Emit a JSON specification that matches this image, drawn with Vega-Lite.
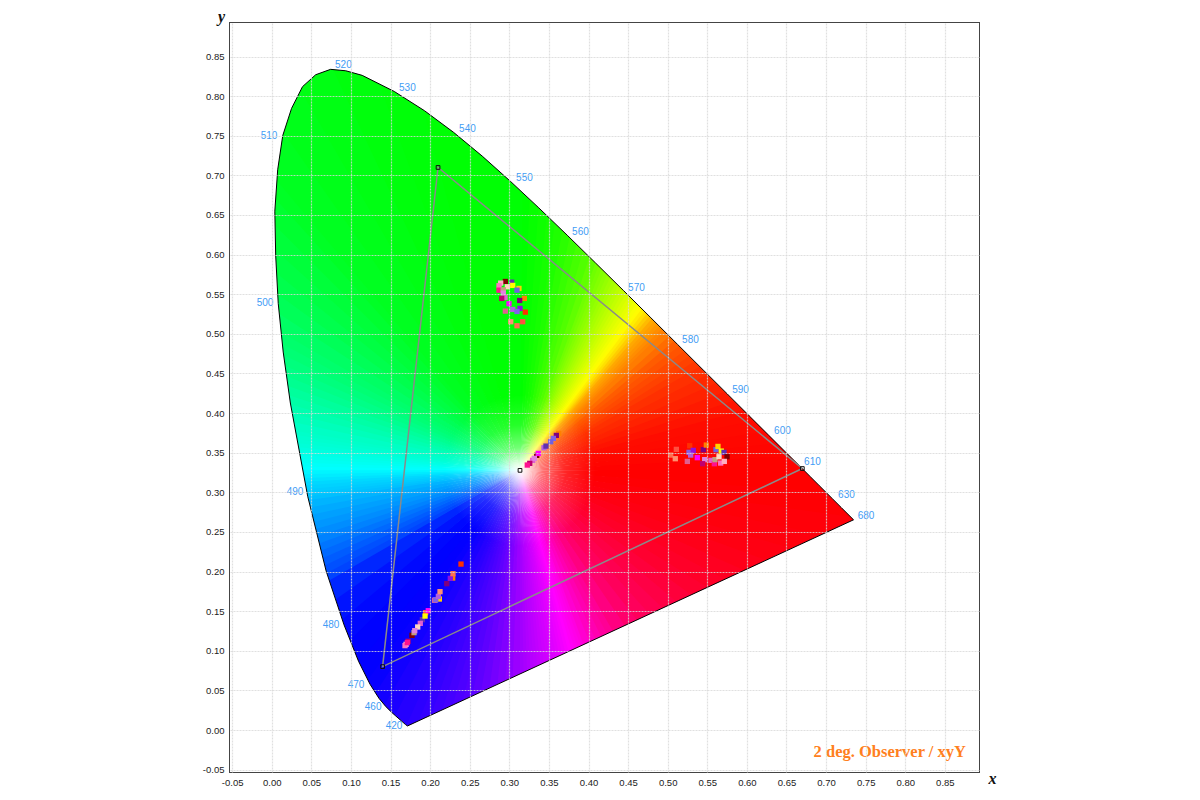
{"$schema":"https://vega.github.io/schema/vega-lite/v6.json","width":749,"height":749,"autosize":{"type":"none"},"padding":{"left":230,"top":23,"right":221,"bottom":28},"background":"white","config":{"view":{"stroke":"#444444","strokeWidth":2}},
"datasets":{"ring":[
{"i":0,"x":-0.06,"y":0.9,"k":"frame"},{"i":1,"x":0.9,"y":0.9,"k":"frame"},{"i":2,"x":0.9,"y":-0.06,"k":"frame"},{"i":3,"x":-0.06,"y":-0.06,"k":"frame"},{"i":4,"x":-0.06,"y":0.9,"k":"frame"},
{"i":5,"x":0.0139,"y":0.7502,"k":"locus"},{"i":5.5,"x":0.0075,"y":0.707,"k":"locus"},{"i":6,"x":0.0039,"y":0.6548,"k":"locus"},{"i":6.5,"x":0.005,"y":0.5985,"k":"locus"},{"i":7,"x":0.0082,"y":0.5384,"k":"locus"},{"i":7.5,"x":0.0145,"y":0.477,"k":"locus"},{"i":8,"x":0.0235,"y":0.4127,"k":"locus"},{"i":9,"x":0.0454,"y":0.295,"k":"locus"},{"i":10,"x":0.0687,"y":0.2007,"k":"locus"},{"i":11,"x":0.0913,"y":0.1327,"k":"locus"},{"i":12,"x":0.1096,"y":0.0868,"k":"locus"},{"i":13,"x":0.1241,"y":0.0578,"k":"locus"},{"i":14,"x":0.1355,"y":0.0399,"k":"locus"},{"i":15,"x":0.144,"y":0.0297,"k":"locus"},{"i":16,"x":0.151,"y":0.0227,"k":"locus"},{"i":17,"x":0.1566,"y":0.0177,"k":"locus"},{"i":18,"x":0.1644,"y":0.0109,"k":"locus"},{"i":19,"x":0.1689,"y":0.0069,"k":"locus"},{"i":20,"x":0.1714,"y":0.0051,"k":"locus"},{"i":21,"x":0.7347,"y":0.2653,"k":"locus"},{"i":22,"x":0.719,"y":0.2809,"k":"locus"},{"i":23,"x":0.7079,"y":0.292,"k":"locus"},{"i":24,"x":0.6915,"y":0.3083,"k":"locus"},{"i":25,"x":0.6801,"y":0.3197,"k":"locus"},{"i":26,"x":0.6658,"y":0.334,"k":"locus"},{"i":27,"x":0.6482,"y":0.3514,"k":"locus"},{"i":28,"x":0.627,"y":0.3725,"k":"locus"},{"i":29,"x":0.6029,"y":0.3965,"k":"locus"},{"i":30,"x":0.5752,"y":0.4242,"k":"locus"},{"i":31,"x":0.5448,"y":0.4544,"k":"locus"},{"i":32,"x":0.5125,"y":0.4866,"k":"locus"},{"i":33,"x":0.4788,"y":0.5202,"k":"locus"},{"i":34,"x":0.4441,"y":0.5547,"k":"locus"},{"i":35,"x":0.4087,"y":0.5896,"k":"locus"},{"i":36,"x":0.3731,"y":0.6245,"k":"locus"},{"i":37,"x":0.3373,"y":0.6589,"k":"locus"},{"i":38,"x":0.3016,"y":0.6923,"k":"locus"},{"i":39,"x":0.2658,"y":0.7243,"k":"locus"},{"i":40,"x":0.2296,"y":0.7543,"k":"locus"},{"i":41,"x":0.1929,"y":0.7816,"k":"locus"},{"i":42,"x":0.1547,"y":0.8059,"k":"locus"},{"i":43,"x":0.1142,"y":0.8262,"k":"locus"},{"i":43.5,"x":0.0935,"y":0.832,"k":"locus"},{"i":44,"x":0.0743,"y":0.8338,"k":"locus"},{"i":44.5,"x":0.0555,"y":0.827,"k":"locus"},{"i":45,"x":0.0389,"y":0.812,"k":"locus"},{"i":45.5,"x":0.025,"y":0.7845,"k":"locus"},{"i":46,"x":0.0139,"y":0.7502,"k":"locus"},
{"i":47,"x":-0.06,"y":0.9,"k":"frame"}]},
"encoding":{"x":{"field":"x","type":"quantitative","title":"x","scale":{"domain":[-0.0527,0.8931],"nice":false,"zero":false},"axis":{"values":[-0.05,0,0.05,0.1,0.15,0.2,0.25,0.3,0.35,0.4,0.45,0.5,0.55,0.6,0.65,0.7,0.75,0.8,0.85],"format":".2f","labelExpr":"replace(datum.label, '−', '-')","zindex":1,"domain":false,"ticks":false,"labelPadding":5,"labelFont":"Liberation Sans","labelFontSize":9.5,"labelColor":"#222222","labelFlush":false,"labelOverlap":false,"gridColor":"#d8d8d8","gridOpacity":0.8,"gridDash":[2,1],"gridWidth":1.2,"titleFont":"Liberation Serif","titleFontSize":16,"titleFontWeight":"bold","titleFontStyle":"italic","titleColor":"#111111","titleX":762,"titleY":6,"titleAlign":"center","titleBaseline":"middle"}},
"y":{"field":"y","type":"quantitative","title":"y","scale":{"domain":[-0.053,0.8923],"nice":false,"zero":false},"axis":{"values":[-0.05,0,0.05,0.1,0.15,0.2,0.25,0.3,0.35,0.4,0.45,0.5,0.55,0.6,0.65,0.7,0.75,0.8,0.85],"format":".2f","labelExpr":"replace(datum.label, '−', '-')","zindex":1,"domain":false,"ticks":false,"labelPadding":6,"labelFont":"Liberation Sans","labelFontSize":9.5,"labelColor":"#222222","labelFlush":false,"labelOverlap":false,"gridColor":"#d8d8d8","gridOpacity":0.8,"gridDash":[2,1],"gridWidth":1.2,"titleFont":"Liberation Serif","titleFontSize":16,"titleFontWeight":"bold","titleFontStyle":"italic","titleColor":"#111111","titleAngle":0,"titleX":-9,"titleY":-7,"titleAlign":"center","titleBaseline":"middle"}}},
"layer":[
{"data":{"values":[{"x":0.3135,"y":0.3277,"a":0,"b":2.5},{"x":0.3135,"y":0.3277,"a":2,"b":4.5},{"x":0.3135,"y":0.3277,"a":4,"b":6.5},{"x":0.3135,"y":0.3277,"a":6,"b":8.5},{"x":0.3135,"y":0.3277,"a":8,"b":10.5},{"x":0.3135,"y":0.3277,"a":10,"b":12.5},{"x":0.3135,"y":0.3277,"a":12,"b":14.5},{"x":0.3135,"y":0.3277,"a":14,"b":16.5},{"x":0.3135,"y":0.3277,"a":16,"b":18.5},{"x":0.3135,"y":0.3277,"a":18,"b":20.5},{"x":0.3135,"y":0.3277,"a":20,"b":21.5},{"x":0.3135,"y":0.3277,"a":21,"b":22.5},{"x":0.3135,"y":0.3277,"a":22,"b":23.5},{"x":0.3135,"y":0.3277,"a":23,"b":24.5},{"x":0.3135,"y":0.3277,"a":24,"b":25.5},{"x":0.3135,"y":0.3277,"a":25,"b":26.5},{"x":0.3135,"y":0.3277,"a":26,"b":27.5},{"x":0.3135,"y":0.3277,"a":27,"b":28.5},{"x":0.3135,"y":0.3277,"a":28,"b":29.5},{"x":0.3135,"y":0.3277,"a":29,"b":30.5},{"x":0.3135,"y":0.3277,"a":30,"b":31.5},{"x":0.3135,"y":0.3277,"a":31,"b":32.5},{"x":0.3135,"y":0.3277,"a":32,"b":33.5},{"x":0.3135,"y":0.3277,"a":33,"b":34.5},{"x":0.3135,"y":0.3277,"a":34,"b":35.5},{"x":0.3135,"y":0.3277,"a":35,"b":36.5},{"x":0.3135,"y":0.3277,"a":36,"b":37.5},{"x":0.3135,"y":0.3277,"a":37,"b":38.5},{"x":0.3135,"y":0.3277,"a":38,"b":39.5},{"x":0.3135,"y":0.3277,"a":39,"b":40.5},{"x":0.3135,"y":0.3277,"a":40,"b":41.5},{"x":0.3135,"y":0.3277,"a":41,"b":42.5},{"x":0.3135,"y":0.3277,"a":42,"b":43.5},{"x":0.3135,"y":0.3277,"a":43,"b":44.5},{"x":0.3135,"y":0.3277,"a":44,"b":45.5},{"x":0.3135,"y":0.3277,"a":45,"b":46.5},{"x":0.3135,"y":0.3277,"a":46,"b":48.5},{"x":0.3135,"y":0.3277,"a":48,"b":50.5},{"x":0.3135,"y":0.3277,"a":50,"b":52.5},{"x":0.3135,"y":0.3277,"a":52,"b":54.5},{"x":0.3135,"y":0.3277,"a":54,"b":56.5},{"x":0.3135,"y":0.3277,"a":56,"b":58.5},{"x":0.3135,"y":0.3277,"a":58,"b":60.5},{"x":0.3135,"y":0.3277,"a":60,"b":63.5},{"x":0.3135,"y":0.3277,"a":63,"b":66.5},{"x":0.3135,"y":0.3277,"a":66,"b":69.5},{"x":0.3135,"y":0.3277,"a":69,"b":72.5},{"x":0.3135,"y":0.3277,"a":72,"b":75.5},{"x":0.3135,"y":0.3277,"a":75,"b":78.5},{"x":0.3135,"y":0.3277,"a":78,"b":81.5},{"x":0.3135,"y":0.3277,"a":81,"b":84.5},{"x":0.3135,"y":0.3277,"a":84,"b":87.5},{"x":0.3135,"y":0.3277,"a":87,"b":90.5},{"x":0.3135,"y":0.3277,"a":90,"b":94.5},{"x":0.3135,"y":0.3277,"a":94,"b":98.5},{"x":0.3135,"y":0.3277,"a":98,"b":102.5},{"x":0.3135,"y":0.3277,"a":102,"b":106.5},{"x":0.3135,"y":0.3277,"a":106,"b":110.5},{"x":0.3135,"y":0.3277,"a":110,"b":114.5},{"x":0.3135,"y":0.3277,"a":114,"b":118.5},{"x":0.3135,"y":0.3277,"a":118,"b":122.5},{"x":0.3135,"y":0.3277,"a":122,"b":126.5},{"x":0.3135,"y":0.3277,"a":126,"b":130.5},{"x":0.3135,"y":0.3277,"a":130,"b":134.5},{"x":0.3135,"y":0.3277,"a":134,"b":138.5},{"x":0.3135,"y":0.3277,"a":138,"b":142.5},{"x":0.3135,"y":0.3277,"a":142,"b":146.5},{"x":0.3135,"y":0.3277,"a":146,"b":150.5},{"x":0.3135,"y":0.3277,"a":150,"b":152.5},{"x":0.3135,"y":0.3277,"a":152,"b":154.5},{"x":0.3135,"y":0.3277,"a":154,"b":156.5},{"x":0.3135,"y":0.3277,"a":156,"b":158.5},{"x":0.3135,"y":0.3277,"a":158,"b":160.5},{"x":0.3135,"y":0.3277,"a":160,"b":161.5},{"x":0.3135,"y":0.3277,"a":161,"b":162.5},{"x":0.3135,"y":0.3277,"a":162,"b":163.5},{"x":0.3135,"y":0.3277,"a":163,"b":164.5},{"x":0.3135,"y":0.3277,"a":164,"b":165.5},{"x":0.3135,"y":0.3277,"a":165,"b":166.5},{"x":0.3135,"y":0.3277,"a":166,"b":167.5},{"x":0.3135,"y":0.3277,"a":167,"b":168.5},{"x":0.3135,"y":0.3277,"a":168,"b":169.5},{"x":0.3135,"y":0.3277,"a":169,"b":170.5},{"x":0.3135,"y":0.3277,"a":170,"b":171.5},{"x":0.3135,"y":0.3277,"a":171,"b":172.5},{"x":0.3135,"y":0.3277,"a":172,"b":173.5},{"x":0.3135,"y":0.3277,"a":173,"b":174.5},{"x":0.3135,"y":0.3277,"a":174,"b":175.5},{"x":0.3135,"y":0.3277,"a":175,"b":176.5},{"x":0.3135,"y":0.3277,"a":176,"b":177.5},{"x":0.3135,"y":0.3277,"a":177,"b":178.5},{"x":0.3135,"y":0.3277,"a":178,"b":179.5},{"x":0.3135,"y":0.3277,"a":179,"b":180.5},{"x":0.3135,"y":0.3277,"a":180,"b":182.5},{"x":0.3135,"y":0.3277,"a":182,"b":184.5},{"x":0.3135,"y":0.3277,"a":184,"b":186.5},{"x":0.3135,"y":0.3277,"a":186,"b":188.5},{"x":0.3135,"y":0.3277,"a":188,"b":190.5},{"x":0.3135,"y":0.3277,"a":190,"b":192.5},{"x":0.3135,"y":0.3277,"a":192,"b":194.5},{"x":0.3135,"y":0.3277,"a":194,"b":196.5},{"x":0.3135,"y":0.3277,"a":196,"b":198.5},{"x":0.3135,"y":0.3277,"a":198,"b":200.5},{"x":0.3135,"y":0.3277,"a":200,"b":202.5},{"x":0.3135,"y":0.3277,"a":202,"b":204.5},{"x":0.3135,"y":0.3277,"a":204,"b":207.5},{"x":0.3135,"y":0.3277,"a":207,"b":210.5},{"x":0.3135,"y":0.3277,"a":210,"b":213.5},{"x":0.3135,"y":0.3277,"a":213,"b":216.5},{"x":0.3135,"y":0.3277,"a":216,"b":220.5},{"x":0.3135,"y":0.3277,"a":220,"b":225.5},{"x":0.3135,"y":0.3277,"a":225,"b":230.5},{"x":0.3135,"y":0.3277,"a":230,"b":235.5},{"x":0.3135,"y":0.3277,"a":235,"b":240.5},{"x":0.3135,"y":0.3277,"a":240,"b":242.5},{"x":0.3135,"y":0.3277,"a":242,"b":244.5},{"x":0.3135,"y":0.3277,"a":244,"b":246.5},{"x":0.3135,"y":0.3277,"a":246,"b":248.5},{"x":0.3135,"y":0.3277,"a":248,"b":250.5},{"x":0.3135,"y":0.3277,"a":250,"b":252.5},{"x":0.3135,"y":0.3277,"a":252,"b":254.5},{"x":0.3135,"y":0.3277,"a":254,"b":256.5},{"x":0.3135,"y":0.3277,"a":256,"b":258.5},{"x":0.3135,"y":0.3277,"a":258,"b":260.5},{"x":0.3135,"y":0.3277,"a":260,"b":262.5},{"x":0.3135,"y":0.3277,"a":262,"b":263.5},{"x":0.3135,"y":0.3277,"a":263,"b":264.5},{"x":0.3135,"y":0.3277,"a":264,"b":265.5},{"x":0.3135,"y":0.3277,"a":265,"b":266.5},{"x":0.3135,"y":0.3277,"a":266,"b":267.5},{"x":0.3135,"y":0.3277,"a":267,"b":268.5},{"x":0.3135,"y":0.3277,"a":268,"b":269.5},{"x":0.3135,"y":0.3277,"a":269,"b":270.5},{"x":0.3135,"y":0.3277,"a":270,"b":271.5},{"x":0.3135,"y":0.3277,"a":271,"b":272.5},{"x":0.3135,"y":0.3277,"a":272,"b":273.5},{"x":0.3135,"y":0.3277,"a":273,"b":274.5},{"x":0.3135,"y":0.3277,"a":274,"b":275.5},{"x":0.3135,"y":0.3277,"a":275,"b":276.5},{"x":0.3135,"y":0.3277,"a":276,"b":277.5},{"x":0.3135,"y":0.3277,"a":277,"b":278.5},{"x":0.3135,"y":0.3277,"a":278,"b":279.5},{"x":0.3135,"y":0.3277,"a":279,"b":280.5},{"x":0.3135,"y":0.3277,"a":280,"b":282.5},{"x":0.3135,"y":0.3277,"a":282,"b":284.5},{"x":0.3135,"y":0.3277,"a":284,"b":286.5},{"x":0.3135,"y":0.3277,"a":286,"b":288.5},{"x":0.3135,"y":0.3277,"a":288,"b":290.5},{"x":0.3135,"y":0.3277,"a":290,"b":292.5},{"x":0.3135,"y":0.3277,"a":292,"b":294.5},{"x":0.3135,"y":0.3277,"a":294,"b":296.5},{"x":0.3135,"y":0.3277,"a":296,"b":298.5},{"x":0.3135,"y":0.3277,"a":298,"b":300.5},{"x":0.3135,"y":0.3277,"a":300,"b":303.5},{"x":0.3135,"y":0.3277,"a":303,"b":306.5},{"x":0.3135,"y":0.3277,"a":306,"b":309.5},{"x":0.3135,"y":0.3277,"a":309,"b":312.5},{"x":0.3135,"y":0.3277,"a":312,"b":315.5},{"x":0.3135,"y":0.3277,"a":315,"b":318.5},{"x":0.3135,"y":0.3277,"a":318,"b":320.5},{"x":0.3135,"y":0.3277,"a":320,"b":325.5},{"x":0.3135,"y":0.3277,"a":325,"b":330.5},{"x":0.3135,"y":0.3277,"a":330,"b":335.5},{"x":0.3135,"y":0.3277,"a":335,"b":340.5},{"x":0.3135,"y":0.3277,"a":340,"b":345.5},{"x":0.3135,"y":0.3277,"a":345,"b":360.5}]},
"mark":{"type":"arc","innerRadius":0,"outerRadius":900,"clip":true},
"encoding":{"theta":{"field":"a","type":"quantitative","stack":null,"scale":{"type":"linear","domain":[0,360],"range":[0,6.283185307]}},"theta2":{"field":"b"},
"fill":{"field":"a","type":"quantitative","legend":null,"scale":{"interpolate":"rgb","domain":[0,7,16,20,26,30,35.8,38,41,45,50,60,75,90,105,122,140,152,158,164,170,177,184,191,203,213,218,228,234,242,251,260,266,270,276,284,295,305,320,335,350,360],"range":["#00ff00","#18ff00","#50ff00","#70ff00","#a8ff00","#ccff00","#ffff00","#ffe000","#ffa800","#ff8400","#ff5c00","#ff3000","#ff0c00","#ff0000","#ff0010","#ff0030","#ff0060","#ff00a0","#ff00d0","#ff00ff","#d800ff","#b000ff","#8000ff","#5800ff","#2800ff","#0800ff","#0000ff","#000cff","#0020ff","#0050ff","#0088ff","#00b4ff","#00d8ff","#00ffff","#00ffd8","#00ffb0","#00ff78","#00ff50","#00ff20","#00ff0c","#00ff00","#00ff00"]}}}},
{"data":{"values":[{"x":0.3135,"y":0.3277}]},"mark":{"type":"point","shape":"circle","filled":true,"size":22700,"opacity":1,"fill":{"gradient":"radial","stops":[{"offset":0,"color":"rgba(255,255,255,1)"},{"offset":0.1,"color":"rgba(255,255,255,0.85)"},{"offset":0.3,"color":"rgba(255,255,255,0.45)"},{"offset":0.6,"color":"rgba(255,255,255,0.15)"},{"offset":1,"color":"rgba(255,255,255,0)"}]},"stroke":null}},
{"data":{"name":"ring"},"mark":{"type":"line","fill":"white","stroke":"white","strokeWidth":0,"clip":true},"encoding":{"order":{"field":"i","type":"quantitative"}}},
{"data":{"name":"ring"},"transform":[{"filter":"datum.k == 'locus'"}],"mark":{"type":"line","stroke":"#000000","strokeWidth":1},"encoding":{"order":{"field":"i","type":"quantitative"}}},
{"data":{"values":[{"i":0,"x":0.67,"y":0.33},{"i":1,"x":0.21,"y":0.71},{"i":2,"x":0.14,"y":0.08},{"i":3,"x":0.67,"y":0.33}]},"mark":{"type":"line","stroke":"#8a8a8a","strokeWidth":1.5},"encoding":{"order":{"field":"i","type":"quantitative"}}},
{"data":{"values":[
{"p":1,"x":0.295,"y":0.5661},{"p":2,"x":0.303,"y":0.5652},{"p":3,"x":0.2891,"y":0.564},{"p":4,"x":0.287,"y":0.5607},{"p":6,"x":0.3043,"y":0.5611},{"p":5,"x":0.2975,"y":0.5594},{"p":7,"x":0.3122,"y":0.5573},{"p":8,"x":0.3097,"y":0.5551},{"p":9,"x":0.287,"y":0.5551},{"p":10,"x":0.2924,"y":0.5556},{"p":11,"x":0.2924,"y":0.5514},{"p":12,"x":0.2946,"y":0.5459},{"p":13,"x":0.2904,"y":0.5447},{"p":14,"x":0.319,"y":0.5447},{"p":15,"x":0.3131,"y":0.5421},{"p":16,"x":0.2996,"y":0.538},{"p":17,"x":0.3135,"y":0.5321},{"p":18,"x":0.3043,"y":0.5308},{"p":19,"x":0.3097,"y":0.5282},{"p":20,"x":0.295,"y":0.5287},{"p":21,"x":0.3202,"y":0.5274},{"p":22,"x":0.3018,"y":0.5153},{"p":23,"x":0.3169,"y":0.5153},{"p":24,"x":0.3097,"y":0.5102},
{"p":23,"x":0.5109,"y":0.3542},{"p":21,"x":0.5278,"y":0.3588},{"p":24,"x":0.5038,"y":0.347},{"p":22,"x":0.5096,"y":0.3424},{"p":19,"x":0.5269,"y":0.3504},{"p":17,"x":0.5323,"y":0.3529},{"p":18,"x":0.529,"y":0.347},{"p":20,"x":0.5248,"y":0.339},{"p":16,"x":0.5374,"y":0.3437},{"p":15,"x":0.545,"y":0.3538},{"p":14,"x":0.5488,"y":0.3596},{"p":11,"x":0.5467,"y":0.3412},{"p":13,"x":0.5441,"y":0.3361},{"p":12,"x":0.5547,"y":0.3403},{"p":9,"x":0.5589,"y":0.3361},{"p":10,"x":0.5597,"y":0.3412},{"p":8,"x":0.561,"y":0.3538},{"p":7,"x":0.5635,"y":0.3579},{"p":6,"x":0.5677,"y":0.352},{"p":2,"x":0.5711,"y":0.3504},{"p":1,"x":0.5749,"y":0.3449},{"p":5,"x":0.5648,"y":0.3449},{"p":4,"x":0.5669,"y":0.3369},{"p":3,"x":0.5715,"y":0.339},
{"p":21,"x":0.239,"y":0.2094},{"p":14,"x":0.2285,"y":0.1918},{"p":17,"x":0.2255,"y":0.1914},{"p":24,"x":0.2289,"y":0.1973},{"p":15,"x":0.221,"y":0.1847},{"p":7,"x":0.2117,"y":0.1653},{"p":8,"x":0.2066,"y":0.164},{"p":20,"x":0.2056,"y":0.1637},{"p":19,"x":0.2071,"y":0.1645},{"p":18,"x":0.2104,"y":0.1687},{"p":22,"x":0.2125,"y":0.1746},{"p":23,"x":0.1944,"y":0.1481},{"p":16,"x":0.1977,"y":0.1506},{"p":2,"x":0.1902,"y":0.1393},{"p":6,"x":0.1936,"y":0.1438},{"p":12,"x":0.1876,"y":0.1346},{"p":5,"x":0.1843,"y":0.13},{"p":1,"x":0.1771,"y":0.1195},{"p":10,"x":0.1797,"y":0.1229},{"p":11,"x":0.1806,"y":0.1254},{"p":3,"x":0.1696,"y":0.1081},{"p":4,"x":0.1683,"y":0.1065},{"p":13,"x":0.1721,"y":0.1119},{"p":9,"x":0.1712,"y":0.1103},
{"p":14,"x":0.3624,"y":0.3743},{"p":15,"x":0.3594,"y":0.3718},{"p":19,"x":0.3556,"y":0.368},{"p":8,"x":0.3523,"y":0.3638},{"p":18,"x":0.3438,"y":0.3562},{"p":2,"x":0.3463,"y":0.3583},{"p":1,"x":0.3346,"y":0.3466},{"p":16,"x":0.3366,"y":0.3491},{"p":12,"x":0.3295,"y":0.3403},{"p":11,"x":0.3316,"y":0.3428},{"p":13,"x":0.3258,"y":0.3365},{"p":9,"x":0.3227,"y":0.3344}]},
"mark":{"type":"square","size":28,"opacity":1},"encoding":{"color":{"field":"p","type":"nominal","legend":null,"scale":{"domain":[1,2,3,4,5,6,7,8,9,10,11,12,13,14,15,16,17,18,19,20,21,22,23,24],"range":["#800000","#6030b0","#ffb0c0","#ff70c0","#ffd8c0","#ffff00","#ffd000","#7060e0","#ff1090","#c0a080","#e080e0","#e060d0","#c00070","#ff8000","#800080","#ff00ff","#9010e0","#b060e0","#8060e8","#e06090","#ff3000","#ff9070","#ff5040","#ff7050"]}}}},
{"data":{"values":[{"x":0.67,"y":0.33},{"x":0.21,"y":0.71},{"x":0.14,"y":0.08},{"x":0.3135,"y":0.3277}]},"mark":{"type":"square","filled":false,"size":14,"stroke":"#111111","strokeWidth":1,"opacity":1}},
{"data":{"values":[{"t":"520","x":0.0905,"y":0.8387},{"t":"530","x":0.1713,"y":0.8097},{"t":"540","x":0.2471,"y":0.758},{"t":"550","x":0.3191,"y":0.6961},{"t":"560","x":0.3898,"y":0.628},{"t":"570","x":0.4605,"y":0.5573},{"t":"580","x":0.5287,"y":0.4918},{"t":"590","x":0.5919,"y":0.4287},{"t":"600","x":0.6449,"y":0.3769},{"t":"610","x":0.6828,"y":0.3378},{"t":"630","x":0.7257,"y":0.2962},{"t":"680","x":0.7504,"y":0.2696},{"t":"510","x":-0.0034,"y":0.7503},{"t":"500","x":-0.0085,"y":0.5384},{"t":"490","x":0.0294,"y":0.3008},{"t":"480","x":0.0749,"y":0.1322},{"t":"470","x":0.1065,"y":0.0564},{"t":"460","x":0.128,"y":0.0285},{"t":"420","x":0.1544,"y":0.0047}]},"mark":{"type":"text","font":"Liberation Sans","fontSize":10,"color":"#3f9cf5","align":"center","baseline":"middle"},"encoding":{"text":{"field":"t"}}},
{"data":{"values":[{"t":"2 deg. Observer / xyY","x":0.8766,"y":-0.0281}]},"mark":{"type":"text","font":"Liberation Serif","fontSize":16.5,"fontWeight":"bold","color":"#ff8020","align":"right","baseline":"middle"},"encoding":{"text":{"field":"t"}}}
]}
